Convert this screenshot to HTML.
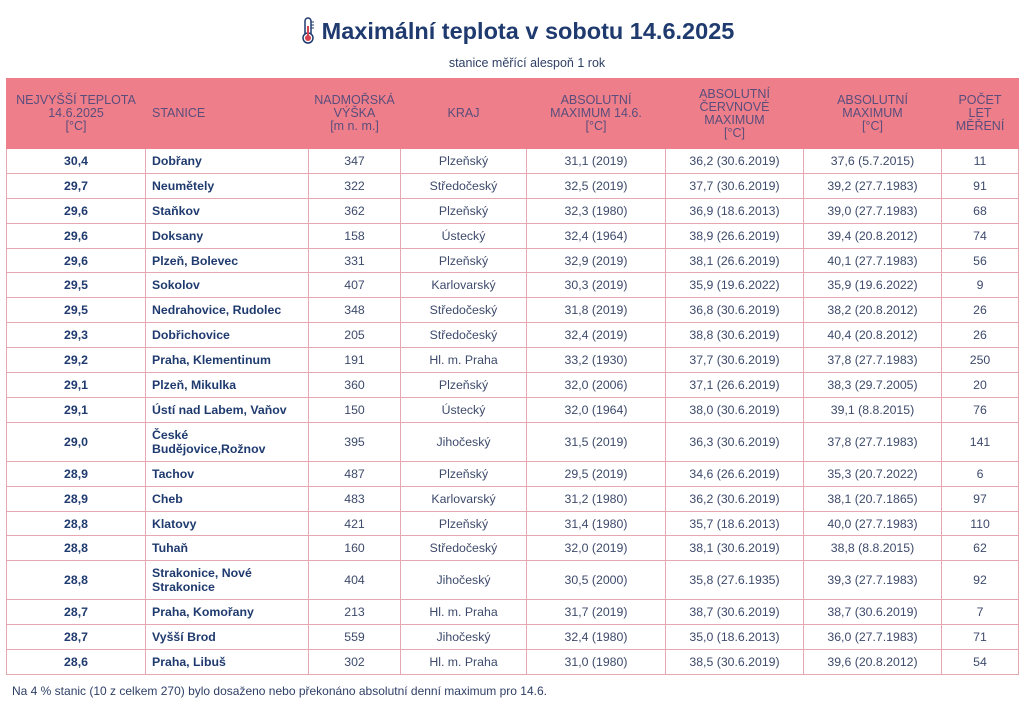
<!DOCTYPE html>
<html><head><meta charset="utf-8"><style>
body{margin:0;background:#fff;width:1024px;height:722px;overflow:hidden;font-family:"Liberation Sans",Arial,sans-serif;position:relative}
.title{position:absolute;top:18px;left:0;width:1024px;text-align:center;font-size:23.5px;font-weight:bold;color:#1f3a6e;padding-left:10px;box-sizing:border-box}
.sub{position:absolute;top:56px;left:0;width:1024px;text-align:center;font-size:12.5px;color:#2e3f66;padding-left:30px;box-sizing:border-box}
table{position:absolute;left:6px;top:78px;width:1012px;border-collapse:collapse;table-layout:fixed}
th{background:#ee7f8a;color:#5a4d7c;font-weight:normal;font-size:12.5px;line-height:13px;height:69px;padding:0 2px;border:1px solid #ee7f8a}
td{border:1px solid #e6a7b0;font-size:12.3px;color:#3d4a6b;text-align:center;height:23.9px;padding:0 6px;line-height:14px}
td.b{font-weight:bold;color:#1f3a6e}
td.s{text-align:left;font-weight:bold;color:#1f3a6e}
tr.t td{height:38px}
.foot{position:absolute;left:12px;top:684px;font-size:12px;color:#2e3f66}
</style></head><body>
<div class="title"><svg width="16" height="30" viewBox="0 0 16 30" style="position:relative;top:-2px;margin-right:6px;vertical-align:middle"><rect x="5" y="2" width="6" height="18" rx="3" fill="#fff" stroke="#1f3a6e" stroke-width="1.5"/><circle cx="8" cy="22" r="5" fill="#fff" stroke="#1f3a6e" stroke-width="1.5"/><circle cx="8" cy="22" r="3" fill="#d9434f"/><rect x="7" y="10" width="2" height="10" fill="#d9434f"/><line x1="11" y1="6" x2="14" y2="6" stroke="#1f3a6e"/><line x1="11" y1="9" x2="14" y2="9" stroke="#1f3a6e"/><line x1="11" y1="12" x2="14" y2="12" stroke="#1f3a6e"/></svg>Maximální teplota v sobotu 14.6.2025</div>
<div class="sub">stanice měřící alespoň 1 rok</div>
<table>
<colgroup><col style="width:139px"><col style="width:163px"><col style="width:92px"><col style="width:126px"><col style="width:139px"><col style="width:138px"><col style="width:138px"><col style="width:77px"></colgroup>
<tr><th>NEJVYŠŠÍ TEPLOTA<br>14.6.2025<br>[°C]</th><th style="text-align:left;padding-left:6px">STANICE</th><th>NADMOŘSKÁ<br>VÝŠKA<br>[m n. m.]</th><th>KRAJ</th><th>ABSOLUTNÍ<br>MAXIMUM 14.6.<br>[°C]</th><th>ABSOLUTNÍ<br>ČERVNOVÉ<br>MAXIMUM<br>[°C]</th><th>ABSOLUTNÍ<br>MAXIMUM<br>[°C]</th><th>POČET<br>LET<br>MĚŘENÍ</th></tr>
<tr><td class="b">30,4</td><td class="s">Dobřany</td><td>347</td><td>Plzeňský</td><td>31,1 (2019)</td><td>36,2 (30.6.2019)</td><td>37,6 (5.7.2015)</td><td>11</td></tr>
<tr><td class="b">29,7</td><td class="s">Neumětely</td><td>322</td><td>Středočeský</td><td>32,5 (2019)</td><td>37,7 (30.6.2019)</td><td>39,2 (27.7.1983)</td><td>91</td></tr>
<tr><td class="b">29,6</td><td class="s">Staňkov</td><td>362</td><td>Plzeňský</td><td>32,3 (1980)</td><td>36,9 (18.6.2013)</td><td>39,0 (27.7.1983)</td><td>68</td></tr>
<tr><td class="b">29,6</td><td class="s">Doksany</td><td>158</td><td>Ústecký</td><td>32,4 (1964)</td><td>38,9 (26.6.2019)</td><td>39,4 (20.8.2012)</td><td>74</td></tr>
<tr><td class="b">29,6</td><td class="s">Plzeň, Bolevec</td><td>331</td><td>Plzeňský</td><td>32,9 (2019)</td><td>38,1 (26.6.2019)</td><td>40,1 (27.7.1983)</td><td>56</td></tr>
<tr><td class="b">29,5</td><td class="s">Sokolov</td><td>407</td><td>Karlovarský</td><td>30,3 (2019)</td><td>35,9 (19.6.2022)</td><td>35,9 (19.6.2022)</td><td>9</td></tr>
<tr><td class="b">29,5</td><td class="s">Nedrahovice, Rudolec</td><td>348</td><td>Středočeský</td><td>31,8 (2019)</td><td>36,8 (30.6.2019)</td><td>38,2 (20.8.2012)</td><td>26</td></tr>
<tr><td class="b">29,3</td><td class="s">Dobřichovice</td><td>205</td><td>Středočeský</td><td>32,4 (2019)</td><td>38,8 (30.6.2019)</td><td>40,4 (20.8.2012)</td><td>26</td></tr>
<tr><td class="b">29,2</td><td class="s">Praha, Klementinum</td><td>191</td><td>Hl. m. Praha</td><td>33,2 (1930)</td><td>37,7 (30.6.2019)</td><td>37,8 (27.7.1983)</td><td>250</td></tr>
<tr><td class="b">29,1</td><td class="s">Plzeň, Mikulka</td><td>360</td><td>Plzeňský</td><td>32,0 (2006)</td><td>37,1 (26.6.2019)</td><td>38,3 (29.7.2005)</td><td>20</td></tr>
<tr><td class="b">29,1</td><td class="s">Ústí nad Labem, Vaňov</td><td>150</td><td>Ústecký</td><td>32,0 (1964)</td><td>38,0 (30.6.2019)</td><td>39,1 (8.8.2015)</td><td>76</td></tr>
<tr class="t"><td class="b">29,0</td><td class="s">České<br>Budějovice,Rožnov</td><td>395</td><td>Jihočeský</td><td>31,5 (2019)</td><td>36,3 (30.6.2019)</td><td>37,8 (27.7.1983)</td><td>141</td></tr>
<tr><td class="b">28,9</td><td class="s">Tachov</td><td>487</td><td>Plzeňský</td><td>29,5 (2019)</td><td>34,6 (26.6.2019)</td><td>35,3 (20.7.2022)</td><td>6</td></tr>
<tr><td class="b">28,9</td><td class="s">Cheb</td><td>483</td><td>Karlovarský</td><td>31,2 (1980)</td><td>36,2 (30.6.2019)</td><td>38,1 (20.7.1865)</td><td>97</td></tr>
<tr><td class="b">28,8</td><td class="s">Klatovy</td><td>421</td><td>Plzeňský</td><td>31,4 (1980)</td><td>35,7 (18.6.2013)</td><td>40,0 (27.7.1983)</td><td>110</td></tr>
<tr><td class="b">28,8</td><td class="s">Tuhaň</td><td>160</td><td>Středočeský</td><td>32,0 (2019)</td><td>38,1 (30.6.2019)</td><td>38,8 (8.8.2015)</td><td>62</td></tr>
<tr class="t"><td class="b">28,8</td><td class="s">Strakonice, Nové<br>Strakonice</td><td>404</td><td>Jihočeský</td><td>30,5 (2000)</td><td>35,8 (27.6.1935)</td><td>39,3 (27.7.1983)</td><td>92</td></tr>
<tr><td class="b">28,7</td><td class="s">Praha, Komořany</td><td>213</td><td>Hl. m. Praha</td><td>31,7 (2019)</td><td>38,7 (30.6.2019)</td><td>38,7 (30.6.2019)</td><td>7</td></tr>
<tr><td class="b">28,7</td><td class="s">Vyšší Brod</td><td>559</td><td>Jihočeský</td><td>32,4 (1980)</td><td>35,0 (18.6.2013)</td><td>36,0 (27.7.1983)</td><td>71</td></tr>
<tr><td class="b">28,6</td><td class="s">Praha, Libuš</td><td>302</td><td>Hl. m. Praha</td><td>31,0 (1980)</td><td>38,5 (30.6.2019)</td><td>39,6 (20.8.2012)</td><td>54</td></tr>
</table>
<div class="foot">Na 4 % stanic (10 z celkem 270) bylo dosaženo nebo překonáno absolutní denní maximum pro 14.6.</div>
</body></html>
